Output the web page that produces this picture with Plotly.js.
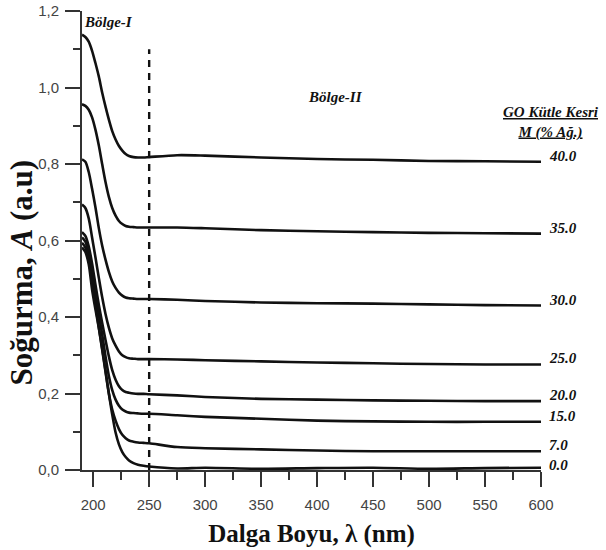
<!DOCTYPE html>
<html>
<head>
<meta charset="utf-8">
<script src="https://cdn.plot.ly/plotly-3.0.1.min.js"></script>
<style>html,body{margin:0;padding:0;background:#fff;}#chart{width:606px;height:550px;}</style>
</head>
<body>
<div id="chart"></div>
<script>
// Wavelength grid (nm)
const wavelength = [190,193,196,199,202,205,208,211,214,217,220,223,226,229,232,236,240,245,250,275,300,350,400,450,500,550,600];

// Absorbance series, GO mass fraction (% wt)
const seriesLabels = ["40.0","35.0","30.0","25.0","20.0","15.0","7.0","0.0"];
const abs40 = [1.138,1.132,1.120,1.096,1.064,1.029,0.987,0.950,0.916,0.886,0.864,0.847,0.835,0.826,0.821,0.818,0.817,0.817,0.818,0.823,0.822,0.817,0.813,0.811,0.808,0.807,0.806];
const abs35 = [0.956,0.952,0.942,0.922,0.890,0.849,0.800,0.753,0.714,0.685,0.665,0.651,0.643,0.638,0.636,0.635,0.634,0.634,0.634,0.634,0.632,0.627,0.624,0.622,0.620,0.619,0.618];
const abs30 = [0.812,0.806,0.779,0.735,0.687,0.633,0.587,0.550,0.518,0.493,0.476,0.464,0.456,0.451,0.449,0.448,0.447,0.447,0.447,0.445,0.442,0.438,0.436,0.435,0.433,0.431,0.430];
const abs25 = [0.694,0.685,0.658,0.608,0.556,0.503,0.452,0.408,0.372,0.344,0.325,0.310,0.300,0.295,0.292,0.291,0.290,0.290,0.290,0.289,0.287,0.284,0.281,0.279,0.277,0.276,0.276];
const abs20 = [0.622,0.612,0.585,0.540,0.485,0.432,0.385,0.340,0.297,0.261,0.236,0.219,0.209,0.204,0.202,0.200,0.199,0.199,0.198,0.195,0.191,0.186,0.184,0.182,0.181,0.180,0.180];
const abs15 = [0.608,0.597,0.566,0.515,0.460,0.407,0.355,0.297,0.246,0.209,0.184,0.168,0.158,0.153,0.150,0.149,0.148,0.147,0.147,0.143,0.139,0.134,0.129,0.127,0.126,0.126,0.126];
const abs7  = [0.594,0.582,0.550,0.495,0.433,0.373,0.315,0.257,0.200,0.158,0.129,0.107,0.092,0.083,0.077,0.074,0.072,0.071,0.070,0.060,0.057,0.054,0.051,0.049,0.049,0.049,0.049];
const abs0  = [0.582,0.570,0.538,0.472,0.420,0.372,0.318,0.260,0.200,0.145,0.098,0.067,0.047,0.034,0.025,0.018,0.014,0.011,0.009,0.004,0.006,0.003,0.005,0.006,0.003,0.005,0.006];
const allSeries = [abs40,abs35,abs30,abs25,abs20,abs15,abs7,abs0];

// Region boundary
const boundaryX = [250,250];
const boundaryY = [0,1.1];

// Ticks
const yTickVals = [0,0.2,0.4,0.6,0.8,1.0,1.2];
const xTickVals = [200,250,300,350,400,450,500,550,600];

const serif = '"Liberation Serif","Times New Roman",serif';
const sans = '"Liberation Sans",Arial,sans-serif';
const ink = '#111';

const traces = allSeries.map((ys,i)=>({
  x: wavelength, y: ys, type:'scatter', mode:'lines',
  name: seriesLabels[i],
  line:{color:ink, width:2.6, shape:'spline', smoothing:0.8},
  hoverinfo:'skip'
}));
traces.push({
  x: boundaryX, y: boundaryY, type:'scatter', mode:'lines',
  line:{color:ink, width:2.4, dash:'7px,6px'}, hoverinfo:'skip'
});

const annotations = allSeries.map((ys,i)=>({
  x: wavelength[wavelength.length-1], y: ys[ys.length-1],
  xref:'x', yref:'y', xanchor:'left', yanchor:'middle',
  xshift:6, yshift:(i===7?3:6), showarrow:false,
  text:'<b><i>'+seriesLabels[i]+'</i></b>',
  font:{family:serif, size:15, color:ink}
}));
annotations.push({
  x:214, y:1.171, xref:'x', yref:'y', showarrow:false,
  text:'<b><i>Bölge-I</i></b>', font:{family:serif,size:15,color:ink}
});
annotations.push({
  x:416, y:0.975, xref:'x', yref:'y', showarrow:false,
  text:'<b><i>Bölge-II</i></b>', font:{family:serif,size:15,color:ink}
});
annotations.push({
  x:1.022, y:0.758, xref:'paper', yref:'paper', showarrow:false,
  xanchor:'center', yanchor:'middle', align:'center',
  text:'<b><i><u>GO Kütle Kesri</u></i></b><br><b><i><u>M (% Ağ.)</u></i></b>',
  font:{family:serif,size:15,color:ink}
});
// Y-axis title (placed as an annotation to match the reference's lower centring)
annotations.push({
  x:-0.131, y:0.43, xref:'paper', yref:'paper', showarrow:false,
  xanchor:'center', yanchor:'middle', textangle:-90,
  text:'<b>Soğurma, <i>A</i> (a.u)</b>',
  font:{family:serif,size:31,color:ink}
});

const layout = {
  width:606, height:550,
  margin:{l:82, r:65, t:11, b:80},
  paper_bgcolor:'#fff', plot_bgcolor:'#fff',
  showlegend:false,
  separators:',.',
  xaxis:{
    range:[190,600], showgrid:false, zeroline:false,
    showline:true, linecolor:'#333', linewidth:2,
    ticks:'outside', ticklen:15, tickwidth:2, tickcolor:'#333',
    tickvals:xTickVals,
    minor:{dtick:25, tick0:200, ticks:'outside', ticklen:8, tickwidth:2, tickcolor:'#333'},
    tickfont:{family:sans, size:15, color:'#444'},
    ticklabelstandoff:5,
    title:{text:'<b>Dalga Boyu, λ (nm)</b>', font:{family:serif, size:25, color:ink}, standoff:12}
  },
  yaxis:{
    range:[0,1.2], showgrid:false, zeroline:false,
    showline:true, linecolor:'#333', linewidth:2,
    ticks:'outside', ticklen:15, tickwidth:2, tickcolor:'#333',
    tickvals:yTickVals, tickformat:'.1f',
    minor:{dtick:0.1, tick0:0, ticks:'outside', ticklen:7, tickwidth:2, tickcolor:'#333'},
    tickfont:{family:sans, size:15, color:'#444'},
    ticklabelstandoff:3
  },
  annotations:annotations
};

Plotly.newPlot('chart', traces, layout, {displayModeBar:false, staticPlot:true});
</script>
</body>
</html>
